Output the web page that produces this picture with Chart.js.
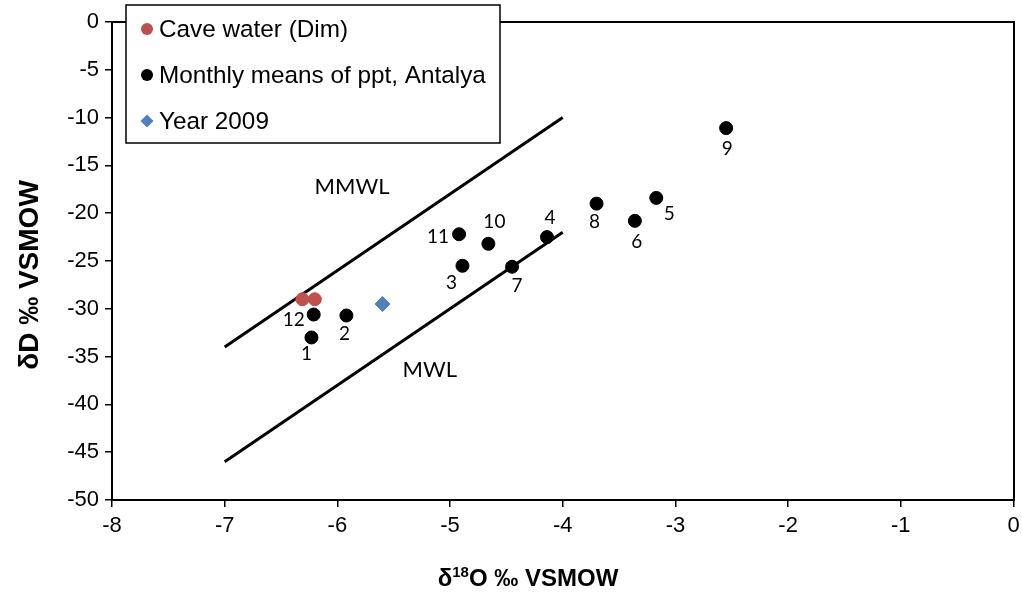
<!DOCTYPE html>
<html><head><meta charset="utf-8">
<script src="https://cdn.jsdelivr.net/npm/chart.js@4/dist/chart.umd.min.js"></script>
<style>html,body{margin:0;padding:0;background:#fff}#wrap{width:1022px;height:592px}</style>
</head><body><div id="wrap"><canvas id="c" width="1022" height="592"></canvas></div>
<script>
// ---- data ----
const caveX = [-6.31, -6.20];
const caveY = [-29.0, -29.0];
const monthLabels = ['1','2','3','4','5','6','7','8','9','10','11','12'];
const monthX = [-6.23, -5.92, -4.89, -4.14, -3.17, -3.36, -4.45, -3.70, -2.55, -4.66, -4.92, -6.21];
const monthY = [-33.0, -30.7, -25.5, -22.5, -18.4, -20.8, -25.6, -19.0, -11.1, -23.2, -22.2, -30.6];
const year2009X = [-5.60];
const year2009Y = [-29.5];
const mmwlX = [-7, -4];
const mmwlY = [-34, -10];
const mwlX = [-7, -4];
const mwlY = [-46, -22];
const seriesNames = ['Cave water (Dim)', 'Monthly means of ppt, Antalya', 'Year 2009'];
const lineNames = ['MMWL', 'MWL'];
const lineLabelX = [-5.87, -5.18];
const lineLabelY = [-17.2, -36.4];
const xTitleParts = ['δ', '18', 'O ‰ VSMOW'];
const yTitle = 'δD ‰ VSMOW';

// label offsets (pixels, layout only)
const labelOffsets = [[-5,16],[-2,18],[-11,17],[3,-19],[13,16],[2,21],[5,19],[-2,18],[1,21],[6,-22],[-21,3],[-20,5]];

const pts = (xs, ys) => xs.map((x, i) => ({x, y: ys[i]}));
const FONT = '"Liberation Sans", Arial, sans-serif';
const LFONT = 'Lato, "Open Sans", sans-serif';

const annot = {
  id: 'annot',
  afterDatasetsDraw(chart) {
    const ctx = chart.ctx, xs = chart.scales.x, ys = chart.scales.y;
    ctx.save();
    ctx.fillStyle = '#000';
    ctx.textAlign = 'center';
    ctx.textBaseline = 'middle';
    ctx.font = '19px ' + LFONT;
    monthLabels.forEach((l, i) => {
      const px = xs.getPixelForValue(monthX[i]) + labelOffsets[i][0];
      const py = ys.getPixelForValue(monthY[i]) + labelOffsets[i][1];
      ctx.fillText(l, px, py);
    });
    ctx.font = '22px ' + LFONT;
    lineNames.forEach((l, i) => {
      ctx.fillText(l, xs.getPixelForValue(lineLabelX[i]), ys.getPixelForValue(lineLabelY[i]));
    });
    // legend box
    ctx.fillStyle = '#fff';
    ctx.fillRect(126, 5, 374, 138);
    ctx.strokeStyle = '#000';
    ctx.lineWidth = 1.5;
    ctx.strokeRect(126, 5, 374, 138);
    const colors = ['#c0504d', '#000000', '#4f81bd'];
    const ly = [29, 75, 121];
    ctx.textAlign = 'left';
    ctx.font = '24.3px ' + FONT;
    seriesNames.forEach((n, i) => {
      ctx.fillStyle = colors[i];
      ctx.beginPath();
      if (i === 2) {
        ctx.moveTo(147, ly[i]-6.5); ctx.lineTo(153.5, ly[i]); ctx.lineTo(147, ly[i]+6.5); ctx.lineTo(140.5, ly[i]);
        ctx.closePath();
      } else {
        ctx.arc(147, ly[i], 6, 0, Math.PI*2);
      }
      ctx.fill();
      ctx.fillStyle = '#000';
      ctx.fillText(n, 159, ly[i]+1);
    });
    // x title
    ctx.textBaseline = 'alphabetic';
    const big = 'bold 24px ' + FONT, small = 'bold 15px ' + FONT;
    ctx.font = big; const w0 = ctx.measureText(xTitleParts[0]).width, w2 = ctx.measureText(xTitleParts[2]).width;
    ctx.font = small; const w1 = ctx.measureText(xTitleParts[1]).width;
    let x0 = 528 - (w0 + w1 + w2) / 2;
    const by = 586;
    ctx.font = big; ctx.fillText(xTitleParts[0], x0, by); x0 += w0;
    ctx.font = small; ctx.fillText(xTitleParts[1], x0, by - 9); x0 += w1;
    ctx.font = big; ctx.fillText(xTitleParts[2], x0, by);
    // y title
    ctx.translate(38, 275);
    ctx.rotate(-Math.PI / 2);
    ctx.textAlign = 'center';
    ctx.font = 'bold 28px ' + FONT;
    ctx.fillText(yTitle, 0, 0);
    ctx.restore();
  }
};

new Chart(document.getElementById('c'), {
  type: 'scatter',
  data: {
    datasets: [
      {label: lineNames[0], data: pts(mmwlX, mmwlY), showLine: true, borderColor: '#000', borderWidth: 3, pointRadius: 0, order: 5},
      {label: lineNames[1], data: pts(mwlX, mwlY), showLine: true, borderColor: '#000', borderWidth: 3, pointRadius: 0, order: 5},
      {label: seriesNames[1], data: pts(monthX, monthY), backgroundColor: '#000', borderColor: '#000', pointRadius: 6.5, order: 3},
      {label: seriesNames[0], data: pts(caveX, caveY), backgroundColor: '#c0504d', borderColor: '#c0504d', pointRadius: 6.5, order: 2},
      {label: seriesNames[2], data: pts(year2009X, year2009Y), backgroundColor: '#4f81bd', borderColor: '#4f81bd', pointStyle: 'rectRot', pointRadius: 7.5, order: 1}
    ]
  },
  options: {
    responsive: false,
    animation: false,
    events: [],
    layout: {padding: {top: 22, right: 7, left: 0, bottom: 0}},
    plugins: {legend: {display: false}, tooltip: {enabled: false}},
    scales: {
      x: {
        type: 'linear', min: -8, max: 0,
        ticks: {stepSize: 1, color: '#000', font: {family: FONT, size: 22}, padding: 6},
        grid: {display: true, drawOnChartArea: false, drawTicks: true, tickLength: 7, color: '#000', lineWidth: 1.5},
        border: {display: true, color: '#000', width: 2},
        afterFit(s) { s.height = 92; s.paddingLeft = 0; s.paddingRight = 0; }
      },
      y: {
        type: 'linear', min: -50, max: 0,
        ticks: {stepSize: 5, color: '#000', font: {family: FONT, size: 22}, padding: 6},
        grid: {display: true, drawOnChartArea: false, drawTicks: true, tickLength: 7, color: '#000', lineWidth: 1.5},
        border: {display: true, color: '#000', width: 2},
        afterFit(s) { s.width = 112; s.paddingTop = 0; s.paddingBottom = 0; }
      },
      x2: {position: 'top', type: 'linear', min: -8, max: 0, ticks: {display: false}, grid: {display: false}, border: {display: true, color: '#000', width: 2}, afterFit(s) { s.height = 0; s.paddingLeft = 0; s.paddingRight = 0; }},
      y2: {position: 'right', type: 'linear', min: -50, max: 0, ticks: {display: false}, grid: {display: false}, border: {display: true, color: '#000', width: 2}, afterFit(s) { s.width = 0; s.paddingTop = 0; s.paddingBottom = 0; }}
    }
  },
  plugins: [annot]
});
</script></body></html>
